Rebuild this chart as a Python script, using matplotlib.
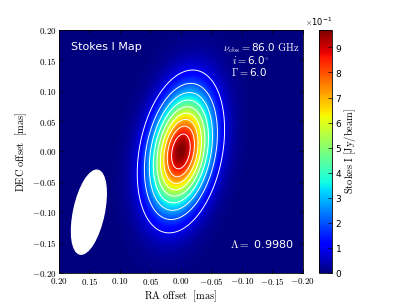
import numpy as np
import matplotlib
matplotlib.use("Agg")
import matplotlib.pyplot as plt
from matplotlib.patches import Ellipse
from matplotlib.ticker import FuncFormatter, ScalarFormatter

plt.rcParams['mathtext.fontset'] = 'cm'
plt.rcParams['font.family'] = ['DejaVu Sans']
plt.rcParams['xtick.direction'] = 'in'
plt.rcParams['ytick.direction'] = 'in'

# source model (elliptical gaussian), values in mas / Jy/beam
peak_flux = 0.97
src_center = [0.0, 0.0]
src_sigma = [0.0633, 0.0317]      # major, minor
src_angle = 11.0                  # deg, ccw in data coords
contour_frac = [0.1, 0.2, 0.3, 0.4, 0.5, 0.6, 0.7, 0.8, 0.9]

# restoring beam
beam_center = [0.151, -0.100]
beam_axes = [0.141, 0.050]        # full major, full minor
beam_angle = 12.0

ticks = [0.20, 0.15, 0.10, 0.05, 0.00, -0.05, -0.10, -0.15, -0.20]
cbar_ticks = [0.0, 0.1, 0.2, 0.3, 0.4, 0.5, 0.6, 0.7, 0.8, 0.9]

nu_obs = 86.0
incl = 6.0
gamma = 6.0
overlap = 0.9980

# grid
n = 300
x = np.linspace(0.2, -0.2, n)
y = np.linspace(-0.2, 0.2, n)
X, Y = np.meshgrid(x, y)
th = np.deg2rad(src_angle)
dx = X - src_center[0]
dy = Y - src_center[1]
# major axis direction (-sin, cos) in data coords
u = -dx*np.sin(th) + dy*np.cos(th)
v = dx*np.cos(th) + dy*np.sin(th)
I = peak_flux*np.exp(-0.5*((u/src_sigma[0])**2 + (v/src_sigma[1])**2))

fig = plt.figure(figsize=(4.07, 3.05), dpi=100)
ax = fig.add_axes([0.145, 0.105, 0.599, 0.797])
cax = fig.add_axes([0.784, 0.105, 0.032, 0.797])

im = ax.imshow(I, extent=[0.2, -0.2, -0.2, 0.2], origin='lower', cmap='jet',
               vmin=0, vmax=I.max(), interpolation='bilinear', aspect='auto')
ax.contour(X, Y, I, levels=[f*peak_flux for f in contour_frac],
           colors='white', linewidths=0.7)

ax.add_patch(Ellipse(beam_center, beam_axes[1], beam_axes[0], angle=beam_angle,
                     facecolor='white', edgecolor='white'))

ax.set_xlim(0.2, -0.2)
ax.set_ylim(-0.2, 0.2)
ax.set_xticks(ticks)
ax.set_yticks(ticks)
fmt = FuncFormatter(lambda val, pos: r'$%.2f$' % val if abs(val) > 1e-9 else r'$0.00$')
ax.xaxis.set_major_formatter(fmt)
ax.yaxis.set_major_formatter(fmt)
ax.tick_params(labelsize=6.5, top=True, right=True, length=3, width=0.5, pad=2)
ax.set_xlabel(r'$\mathrm{RA\ offset\ \ [mas]}$', fontsize=7.5, labelpad=1)
ax.set_ylabel(r'$\mathrm{DEC\ offset\ \ [mas]}$', fontsize=7.5, labelpad=2)
for s in ax.spines.values():
    s.set_linewidth(0.6)

ax.text(0.05, 0.93, 'Stokes I Map', transform=ax.transAxes, color='white',
        fontsize=8, ha='left', va='center')
ax.text(0.985, 0.925, r'$\nu_{\rm obs}=$' + '%.1f' % nu_obs + r'$\ \mathrm{GHz}$',
        transform=ax.transAxes, color='white', fontsize=7.5, ha='right', va='center')
ax.text(0.865, 0.875, r'$i=$' + '%.1f' % incl + r'$^{\circ}$',
        transform=ax.transAxes, color='white', fontsize=7.5, ha='right', va='center')
ax.text(0.855, 0.825, r'$\Gamma=$' + '%.1f' % gamma,
        transform=ax.transAxes, color='white', fontsize=7.5, ha='right', va='center')
ax.text(0.963, 0.12, r'$\Lambda=$' + ' %.4f' % overlap,
        transform=ax.transAxes, color='white', fontsize=8, ha='right', va='center')

cb = fig.colorbar(im, cax=cax, ticks=cbar_ticks)
sf = ScalarFormatter(useMathText=True)
sf.set_powerlimits((0, 0))
cb.formatter = sf
cb.update_ticks()
cb.ax.tick_params(labelsize=6.5, length=3, width=0.5, direction='in', pad=2)
cb.ax.yaxis.get_offset_text().set_fontsize(6)
cb.outline.set_linewidth(0.6)
cb.set_label(r'$\mathrm{Stokes\ I\ [Jy/beam]}$', fontsize=7.5, labelpad=0)

fig.savefig('out.png', dpi=100)
